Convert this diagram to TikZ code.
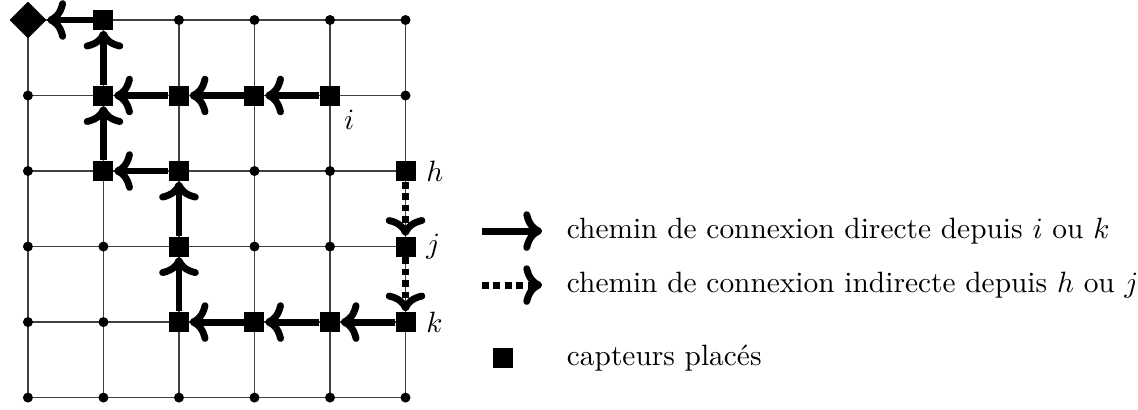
\documentclass[tikz,border=0pt]{standalone}
\usetikzlibrary{shapes.geometric,arrows.meta}
\tikzset{
 capteur/.style={fill,rectangle,inner sep=0pt,minimum size=6.8pt},
 puits/.style={fill,diamond,inner sep=0pt,minimum size=12.7pt},
 sommet/.style={fill,circle,inner sep=0pt,minimum size=3.4pt},
 direct/.style={-{Computer Modern Rightarrow[scale=0.95]},line width=2.35pt},
 indirect/.style={direct,dash pattern=on 2.35pt off 1.55pt},
}
\begin{document}
\begin{tikzpicture}[scale=0.903]
 \useasboundingbox (-0.37,-0.16) rectangle (14.70,5.265);
 \draw [step=1cm,black!75,thin](0,0) grid (5,5);
 \foreach \x/\y in {2/5,3/5,4/5,5/5,0/4,5/4,0/3,3/3,4/3,0/2,1/2,3/2,4/2,0/1,1/1,0/0,1/0,2/0,3/0,4/0,5/0}
  \node[sommet] at (\x,\y) {};
 \node[puits] (p) at (0,5) {};
 \node[capteur] (a) at (1,5) {};
 \node[capteur] (b) at (1,4) {};
 \node[capteur] (c) at (2,4) {};
 \node[capteur] (d) at (3,4) {};
 \node[capteur] (i) at (4,4) {};
 \node[capteur] (e) at (1,3) {};
 \node[capteur] (f) at (2,3) {};
 \node[capteur] (h) at (5,3) {};
 \node[capteur] (g) at (2,2) {};
 \node[capteur] (j) at (5,2) {};
 \node[capteur] (l) at (2,1) {};
 \node[capteur] (m) at (3,1) {};
 \node[capteur] (n) at (4,1) {};
 \node[capteur] (k) at (5,1) {};
 \node[anchor=north west,inner sep=1pt] at (i.south east) {$i$};
 \node[anchor=west] at (h.east) {$h$};
 \node[anchor=west] at (j.east) {$j$};
 \node[anchor=west] at (k.east) {$k$};
 \draw[direct] (i)--(d);
 \draw[direct] (d)--(c);
 \draw[direct] (c)--(b);
 \draw[direct] (b)--(a);
 \draw[direct] (a)--(p);
 \draw[direct] (f)--(e);
 \draw[direct] (e)--(b);
 \draw[direct] (k)--(n);
 \draw[direct] (n)--(m);
 \draw[direct] (m)--(l);
 \draw[direct] (l)--(g);
 \draw[direct] (g)--(f);
 \draw[indirect] (h)--(j);
 \draw[indirect] (j)--(k);
 \coordinate (d1) at (6.01,2.205);
 \coordinate (d2) at (6.81,2.205);
 \coordinate (e1) at (6.01,1.49);
 \coordinate (e2) at (6.81,1.49);
 \draw[direct] (d1)--(d2);
 \draw[indirect] (e1)--(e2);
 \node[capteur] (q) at (6.29,0.523) {};
 \node[anchor=west] (t1) at (7.0,2.205) {chemin de connexion directe depuis $i$ ou $k$};
 \node[anchor=west] (t2) at (7.0,1.49) {chemin de connexion indirecte depuis $h$ ou $j$};
 \node[anchor=west] (t3) at (7.0,0.523) {capteurs placés};
\end{tikzpicture}
\end{document}
